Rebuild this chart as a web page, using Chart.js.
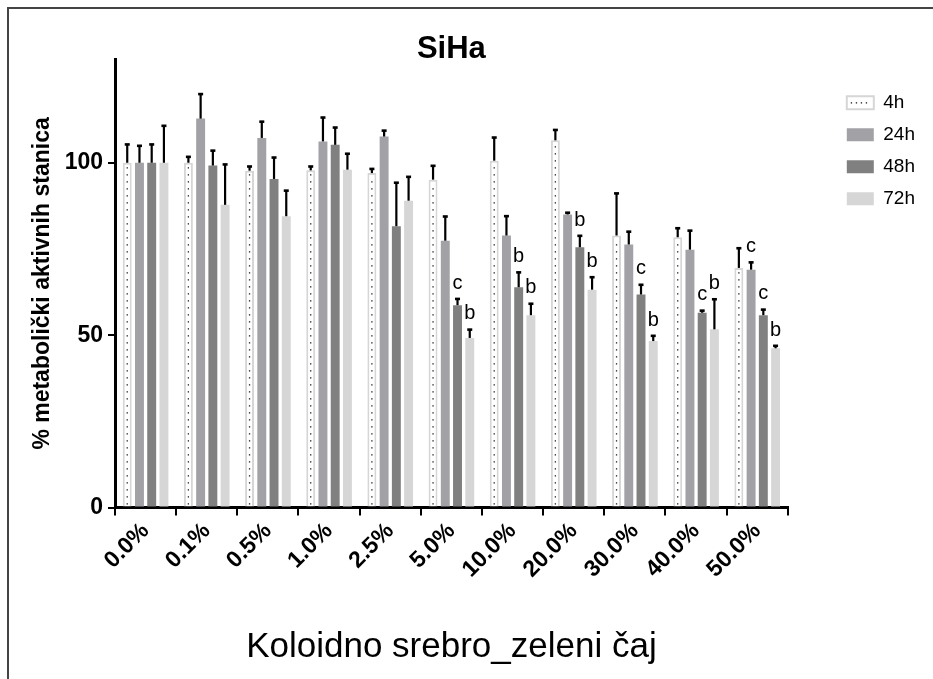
<!DOCTYPE html>
<html><head><meta charset="utf-8">
<script src="https://cdn.jsdelivr.net/npm/chart.js@4.4.1/dist/chart.umd.min.js"></script>
<style>
html,body{margin:0;padding:0;background:#fff;}
#wrap{position:relative;width:933px;height:679px;overflow:hidden;background:#fff;}
#frame{position:absolute;left:7px;top:7px;width:1000px;height:1000px;border-top:2px solid #444;border-left:2px solid #444;}
canvas{position:absolute;left:0;top:0;}
</style></head><body>
<div id="wrap"><div id="frame"></div><canvas id="c" width="933" height="679"></canvas></div>
<script>
const categories = ['0.0%','0.1%','0.5%','1.0%','2.5%','5.0%','10.0%','20.0%','30.0%','40.0%','50.0%'];
const seriesNames = ['4h','24h','48h','72h'];
const mean4h  = [100, 100, 97.7, 97.8, 97, 95.1, 100.6, 106.5, 78.9, 78.4, 69.5];
const mean24h = [100, 112.8, 107.2, 106.2, 107.6, 77.4, 78.9, 85, 76.3, 74.8, 69];
const mean48h = [100, 99.2, 95.3, 105.2, 81.6, 58.7, 63.9, 75.5, 61.8, 56.5, 55.8];
const mean72h = [100, 87.8, 84.5, 98, 89, 49.2, 55.8, 63.2, 48.3, 51.7, 46.2];
const sd4h  = [5.4, 1.8, 1.3, 1.2, 1.3, 4.1, 6.8, 3.1, 12.3, 2.7, 5.8];
const sd24h = [5, 7.2, 4.8, 7, 1.8, 7.1, 5.7, 0.6, 3.8, 5.6, 2.2];
const sd48h = [5.4, 4.4, 6.3, 5.1, 12.7, 1.9, 4.4, 3.4, 2.9, 0.7, 1.7];
const sd72h = [10.8, 11.8, 7.5, 4.7, 7, 2.5, 3.4, 3.7, 1.6, 8.8, 0.8];
const letters4h  = ['','','','','','','','','','',''];
const letters24h = ['','','','','','','','','','','c'];
const letters48h = ['','','','','','c','b','b','c','c','c'];
const letters72h = ['','','','','','b','b','b','b','b','b'];
const yTicks = [0, 50, 100];

const FONT = "'Liberation Sans', Arial, Helvetica, sans-serif";
const sds = [sd4h, sd24h, sd48h, sd72h];
const letters = [letters4h, letters24h, letters48h, letters72h];

const marks = {
  id: 'marks',
  afterLayout(chart) {
    const lg = chart.legend, ca = chart.chartArea;
    const P = lg.options.labels.padding;
    const dx = (ca.right + 59) - (lg.left + P);
    const dy = (ca.top + 34) - (lg.top + P);
    lg.left += dx; lg.right += dx; lg.top += dy; lg.bottom += dy;
  },
  afterDatasetsDraw(chart) {
    const ctx = chart.ctx, ys = chart.scales.y;
    ctx.save();
    const m0 = chart.getDatasetMeta(0);
    m0.data.forEach(bar => {
      ctx.beginPath();
      ctx.setLineDash([1.4, 5.6]);
      ctx.strokeStyle = '#111';
      ctx.lineWidth = 1.3;
      ctx.moveTo(bar.x, bar.base - 2);
      ctx.lineTo(bar.x, bar.y + 3);
      ctx.stroke();
    });
    ctx.setLineDash([]);
    chart.data.datasets.forEach((ds, i) => {
      const meta = chart.getDatasetMeta(i);
      meta.data.forEach((bar, j) => {
        const top = ys.getPixelForValue(ds.data[j] + sds[i][j]);
        ctx.strokeStyle = '#000';
        ctx.lineWidth = 2.2;
        ctx.beginPath();
        ctx.moveTo(bar.x, bar.y);
        ctx.lineTo(bar.x, top);
        ctx.stroke();
        ctx.fillStyle = '#000';
        ctx.fillRect(bar.x - 2.5, top - 1, 5, 2.6);
        const t = letters[i][j];
        if (t) {
          ctx.font = '20px ' + FONT;
          ctx.textAlign = 'center';
          ctx.textBaseline = 'alphabetic';
          ctx.fillText(t, bar.x, top - 10);
        }
      });
    });
    ctx.restore();
  },
  afterDraw(chart) {
    const lg = chart.legend;
    if (!lg || !lg.legendHitBoxes || !lg.legendHitBoxes.length) return;
    const hb = lg.legendHitBoxes[0];
    const bw = lg.options.labels.boxWidth;
    const cy = hb.top + hb.height / 2;
    const ctx = chart.ctx;
    ctx.save();
    ctx.beginPath();
    ctx.setLineDash([1.3, 3.7]);
    ctx.strokeStyle = '#111';
    ctx.lineWidth = 1.2;
    ctx.moveTo(hb.left + 4, cy);
    ctx.lineTo(hb.left + bw - 3, cy);
    ctx.stroke();
    ctx.restore();
  }
};

const palette = {
  '4h':  {bg: '#ffffff', border: '#d6d6d6', bw: 2},
  '24h': {bg: '#a2a2a6', border: '#a2a2a6', bw: 0},
  '48h': {bg: '#808080', border: '#808080', bw: 0},
  '72h': {bg: '#d6d6d6', border: '#d6d6d6', bw: 0}
};
const means = [mean4h, mean24h, mean48h, mean72h];

new Chart(document.getElementById('c'), {
  type: 'bar',
  data: {
    labels: categories,
    datasets: seriesNames.map((n, i) => ({
      label: n,
      data: means[i],
      backgroundColor: palette[n].bg,
      borderColor: palette[n].border,
      borderWidth: palette[n].bw,
      categoryPercentage: 0.8,
      barPercentage: 0.73
    }))
  },
  options: {
    responsive: false,
    animation: false,
    devicePixelRatio: 1,
    layout: {padding: {left: 29, top: 39, bottom: 11, right: 54}},
    plugins: {
      tooltip: {enabled: false},
      title: {
        display: true, text: 'SiHa', fullSize: false,
        color: '#000', font: {family: FONT, size: 31, weight: 'bold', lineHeight: 0.655},
        padding: {top: 0, bottom: 0}
      },
      legend: {
        display: true, position: 'right', align: 'start',
        labels: {
          color: '#000', font: {family: FONT, size: 19},
          boxWidth: 27, boxHeight: 13, padding: 13
        }
      }
    },
    scales: {
      x: {
        offset: true,
        grid: {display: true, drawOnChartArea: false, drawTicks: true, tickLength: 8, color: '#000', lineWidth: 2},
        border: {display: true, color: '#000', width: 3},
        ticks: {color: '#000', font: {family: FONT, size: 23, weight: 'bold'}, minRotation: 45, maxRotation: 45, padding: 2},
        title: {display: true, text: 'Koloidno srebro_zeleni čaj', color: '#000', font: {family: FONT, size: 35}, padding: {top: 0, bottom: 0}},
        afterFit(s) { s.height = 160.4; }
      },
      y: {
        min: 0, max: 130,
        grid: {display: true, drawOnChartArea: false, drawTicks: true, tickLength: 7, color: '#000', lineWidth: 2},
        border: {display: true, color: '#000', width: 3},
        afterBuildTicks(s) { s.ticks = yTicks.map(v => ({value: v})); },
        ticks: {color: '#000', font: {family: FONT, size: 23, weight: 'bold'}, padding: 5, includeBounds: false},
        title: {display: true, text: '% metabolički aktivnih stanica', color: '#000', font: {family: FONT, size: 23, weight: 'bold'}, padding: {top: 0, bottom: 0}},
        afterFit(s) { s.width = 86; }
      }
    }
  },
  plugins: [marks]
});
</script>
</body></html>
